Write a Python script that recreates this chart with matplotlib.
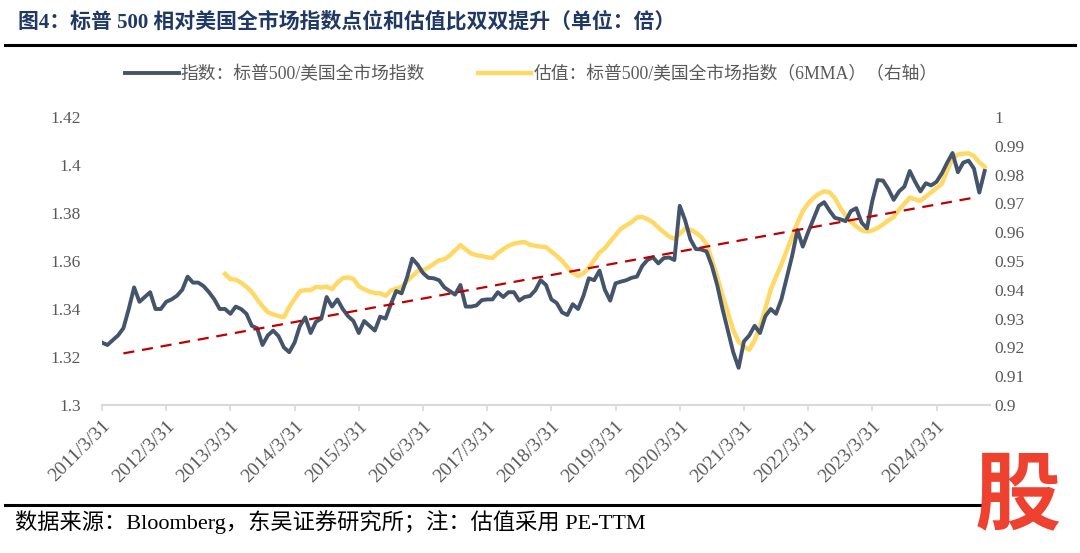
import numpy as np
import matplotlib
matplotlib.use('Agg')
from matplotlib import pyplot as plt
from matplotlib.lines import Line2D
from matplotlib.ticker import FuncFormatter, MultipleLocator

# monthly data, 2011/3 .. 2024/12
start_month = '2011-03'
index_ratio = [
    1.326, 1.325, 1.327, 1.329, 1.332, 1.340, 1.349, 1.343, 1.345, 1.347,
    1.340, 1.340, 1.343, 1.344, 1.3455, 1.348, 1.3535, 1.351, 1.351, 1.3495,
    1.347, 1.344, 1.340, 1.340, 1.338, 1.341, 1.340, 1.338, 1.333, 1.332,
    1.325, 1.329, 1.331, 1.3287, 1.324, 1.322, 1.326, 1.333, 1.3365, 1.330,
    1.3347, 1.336, 1.345, 1.341, 1.344, 1.340, 1.337, 1.335, 1.330, 1.335,
    1.333, 1.331, 1.3368, 1.336, 1.342, 1.3475, 1.3465, 1.353, 1.361, 1.3585,
    1.355, 1.353, 1.3528, 1.352, 1.349, 1.3475, 1.346, 1.350, 1.341, 1.341,
    1.3415, 1.3437, 1.344, 1.344, 1.347, 1.345, 1.347, 1.347, 1.3435, 1.345,
    1.3454, 1.3478, 1.352, 1.350, 1.344, 1.3425, 1.3386, 1.3375, 1.342, 1.340,
    1.3455, 1.3528, 1.352, 1.356, 1.348, 1.3435, 1.3507, 1.3514, 1.352, 1.353,
    1.3535, 1.358, 1.3605, 1.3615, 1.359, 1.3612, 1.3615, 1.3604, 1.383, 1.377,
    1.369, 1.365, 1.3648, 1.364, 1.358, 1.350, 1.340, 1.331, 1.322, 1.3155,
    1.3265, 1.329, 1.333, 1.330, 1.337, 1.340, 1.338, 1.344, 1.353, 1.362,
    1.3729, 1.366, 1.372, 1.3775, 1.383, 1.3845, 1.381, 1.378, 1.3774, 1.3766,
    1.3808, 1.382, 1.376, 1.3736, 1.385, 1.3937, 1.3935, 1.390, 1.3855, 1.389,
    1.391, 1.3975, 1.393, 1.389, 1.3924, 1.3915, 1.393, 1.3965, 1.401, 1.405,
    1.397, 1.401, 1.4018, 1.3985, 1.3885, 1.3975,
]

# valuation ratio (6MMA) starts in 2013/2
val_offset = 23
valuation = [
    0.9455, 0.9437, 0.9435, 0.9425, 0.941, 0.9393, 0.9367, 0.9343, 0.9322, 0.9315,
    0.9309, 0.9305, 0.934, 0.9368, 0.9395, 0.9399, 0.9399, 0.941, 0.9408, 0.9411,
    0.9402, 0.9425, 0.944, 0.9443, 0.9438, 0.9412, 0.9402, 0.9394, 0.9388, 0.9388,
    0.9379, 0.9397, 0.9404, 0.941, 0.943, 0.9447, 0.9464, 0.9468, 0.9477, 0.949,
    0.9503, 0.9506, 0.9519, 0.9537, 0.9555, 0.954, 0.9526, 0.952, 0.9517, 0.9513,
    0.951, 0.9528, 0.9541, 0.9553, 0.956, 0.9564, 0.9566, 0.9556, 0.9553, 0.955,
    0.9548, 0.9533, 0.9518, 0.9501, 0.9478, 0.946, 0.9448, 0.9457, 0.9476, 0.9503,
    0.9529, 0.9544, 0.9568, 0.959, 0.9612, 0.9624, 0.9635, 0.9651, 0.9653, 0.9645,
    0.9634, 0.9616, 0.960, 0.9585, 0.9577, 0.9594, 0.9612, 0.9609, 0.9598, 0.9584,
    0.9558, 0.9505, 0.9445, 0.938, 0.9322, 0.926, 0.922, 0.9202, 0.9192, 0.9224,
    0.9272, 0.9335, 0.940, 0.9445, 0.9488, 0.9536, 0.9585, 0.9632, 0.9673, 0.970,
    0.9719, 0.9733, 0.9742, 0.9739, 0.9718, 0.9685, 0.9658, 0.9636, 0.962, 0.9607,
    0.9602, 0.9606, 0.9615, 0.9627, 0.9641, 0.9653, 0.9678, 0.9699, 0.972, 0.9714,
    0.9709, 0.9724, 0.9738, 0.9753, 0.9768, 0.9815, 0.9855, 0.987, 0.9872, 0.9874,
    0.9864, 0.9843, 0.9827,
]

# trend line of the index (start / end month position and value)
trend_pos = [4, 163]
trend_vals = [1.3215, 1.3864]

year_labels = ['2011/3/31', '2012/3/31', '2013/3/31', '2014/3/31', '2015/3/31',
               '2016/3/31', '2017/3/31', '2018/3/31', '2019/3/31', '2020/3/31',
               '2021/3/31', '2022/3/31', '2023/3/31', '2024/3/31']

title = '图4：标普 500 相对美国全市场指数点位和估值比双双提升（单位：倍）'
label_idx = '指数：标普500/美国全市场指数'
label_val = '估值：标普500/美国全市场指数（6MMA）（右轴）'
source = '数据来源：Bloomberg，东吴证券研究所；注：估值采用 PE-TTM'

fonts = ['Liberation Serif', 'Noto Sans CJK SC', 'DejaVu Sans']
plt.rcParams['font.family'] = fonts

dark = '#44546A'
yellow = '#FFD966'
grey = '#595959'

x_idx = np.arange(len(index_ratio))
x_val = np.arange(len(valuation)) + val_offset

fig = plt.figure(figsize=(10.8, 5.53), dpi=100)
ax = fig.add_axes([102/1080, 1-405/553, 888/1080, 288/553])
ax2 = ax.twinx()

l1, = ax.plot(x_idx, index_ratio, color=dark, lw=2.8, solid_joinstyle='round', zorder=3)
l2, = ax2.plot(x_val, valuation, color=yellow, lw=3.2, solid_joinstyle='round', zorder=2)
ax.plot(trend_pos, trend_vals, color='#C00000', lw=1.6, ls=(0, (5, 3.5)), zorder=4)
ax.set_zorder(ax2.get_zorder() + 1)
ax.patch.set_visible(False)

ax.set_xlim(0, 166)
ax.set_ylim(1.3, 1.42)
ax2.set_ylim(0.9, 1.0)
ax.yaxis.set_major_locator(MultipleLocator(0.02))
ax2.yaxis.set_major_locator(MultipleLocator(0.01))
fmt = FuncFormatter(lambda v, p: '{:g}'.format(round(v, 3)))
ax.yaxis.set_major_formatter(fmt)
ax2.yaxis.set_major_formatter(fmt)

ax.set_xticks(np.arange(len(year_labels)) * 12)
ax.set_xticklabels(year_labels, rotation=45, ha='right', va='top',
                   rotation_mode='anchor', fontsize=14, color=grey)

for a in (ax, ax2):
    for s in a.spines.values():
        s.set_visible(False)
ax.spines['bottom'].set_visible(True)
ax.spines['bottom'].set_color('#D9D9D9')
ax.spines['bottom'].set_linewidth(1.5)
ax.tick_params(axis='x', length=4, width=1.2, color='#D9D9D9', pad=5)
ax.tick_params(axis='y', length=0, pad=15, labelsize=12.5, labelcolor=grey)
ax2.tick_params(axis='y', length=0, pad=3, labelsize=12.5, labelcolor=grey)

fig.legend([l1, l2], [label_idx, label_val], loc='center', bbox_to_anchor=(0.492, 1-75/553),
           ncol=2, frameon=False, fontsize=12.8, handlelength=3.0, handletextpad=0.1,
           columnspacing=3.0, labelcolor=grey)

fig.text(18/1080, 1-22/553, title, fontsize=15, fontweight='bold', color='#1F3864',
         ha='left', va='center')
fig.add_artist(Line2D([5/1080, 1075/1080], [1-45/553]*2, color='black', lw=2.2))
fig.add_artist(Line2D([5/1080, 980/1080], [1-505/553]*2, color='black', lw=2.2))
fig.text(15/1080, 1-522/553, source, fontsize=16, color='black', ha='left', va='center')
fig.text(1018/1080, 1-497/553, '股', fontsize=62, fontweight='bold', color='#EE4130',
         ha='center', va='center', family=['Noto Sans CJK SC'])

fig.savefig('out.png', dpi=100)
